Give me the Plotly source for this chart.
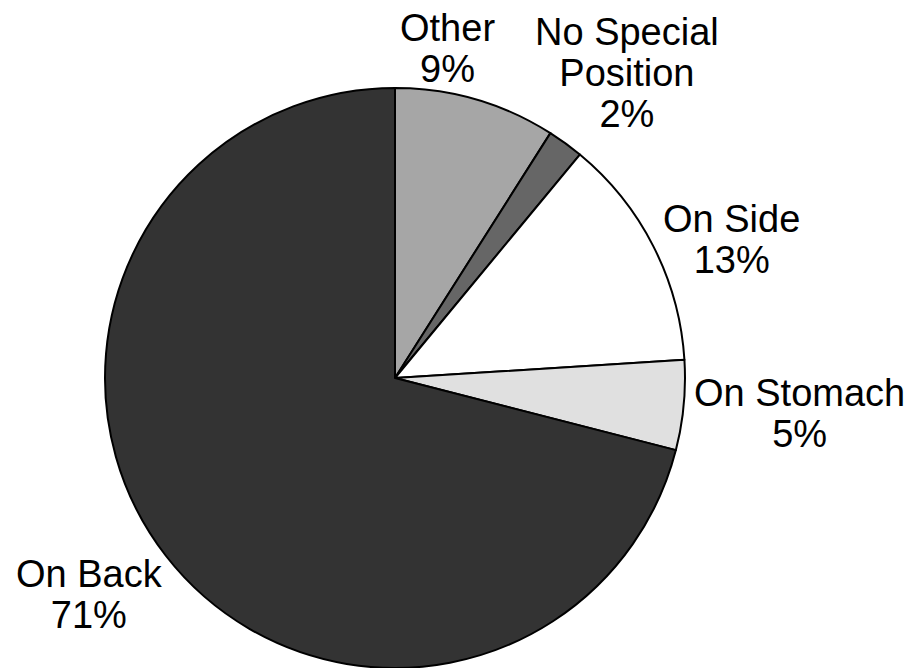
import math
import plotly.graph_objects as go

labels = ["Other", "No Special<br>Position", "On Side", "On Stomach", "On Back"]
values = [9, 2, 13, 5, 71]
colors = ["#a6a6a6", "#666666", "#ffffff", "#e0e0e0", "#333333"]

# layout (pixels in the figure)
W, H = 920, 668
CX, CY, R = 387, 370, 290   # pie centre and radius
GAP = 8                     # distance between pie edge and label
GLYPH_PX = 38               # visible glyph size
LINE_PX = 41                # line pitch of the labels
FONT = dict(family="Liberation Sans, Arial, sans-serif", size=LINE_PX / 1.3, color="#000000")
# small manual nudges of label positions (pixels)
NUDGE_X = {"Other": -31, "No Special<br>Position": -37, "On Back": 5}
NUDGE_Y = {"On Side": 3, "On Stomach": -7, "On Back": 10}

fig = go.Figure(go.Pie(
    labels=labels, values=values, sort=False, direction="clockwise", rotation=0,
    marker=dict(colors=colors, line=dict(color="#000000", width=2)),
    textinfo="none",
    domain=dict(x=[(CX - R) / W, (CX + R) / W], y=[(H - CY - R) / H, (H - CY + R) / H]),
    automargin=False, showlegend=False,
))

# outside labels placed at each slice's mid angle
total = sum(values)
cum = 0.0
for lab, v in zip(labels, values):
    mid = (cum + v / 2) / total * 2 * math.pi
    cum += v
    s, c = math.sin(mid), math.cos(mid)
    px = CX + (R + GAP) * s
    py = CY - (R + GAP) * c
    xanchor = "left" if s > 0.4 else ("right" if s < -0.4 else "center")
    yanchor = "bottom" if c > 0.5 else ("top" if c < -0.5 else "middle")
    lines = lab.split("<br>") + [f"{round(v / total * 100)}%"]
    text = "<br>".join(f"<span style='font-size:{GLYPH_PX}px'>{ln}</span>" for ln in lines)
    fig.add_annotation(
        x=px / W, y=1 - py / H, xref="paper", yref="paper",
        xshift=NUDGE_X.get(lab, 0), yshift=NUDGE_Y.get(lab, 0),
        text=text,
        showarrow=False, xanchor=xanchor, yanchor=yanchor, align="center",
        font=FONT,
    )

fig.update_layout(
    width=W, height=H,
    margin=dict(l=0, r=0, t=0, b=0),
    paper_bgcolor="#ffffff",
    plot_bgcolor="#ffffff",
)

fig.write_html("out.html")
